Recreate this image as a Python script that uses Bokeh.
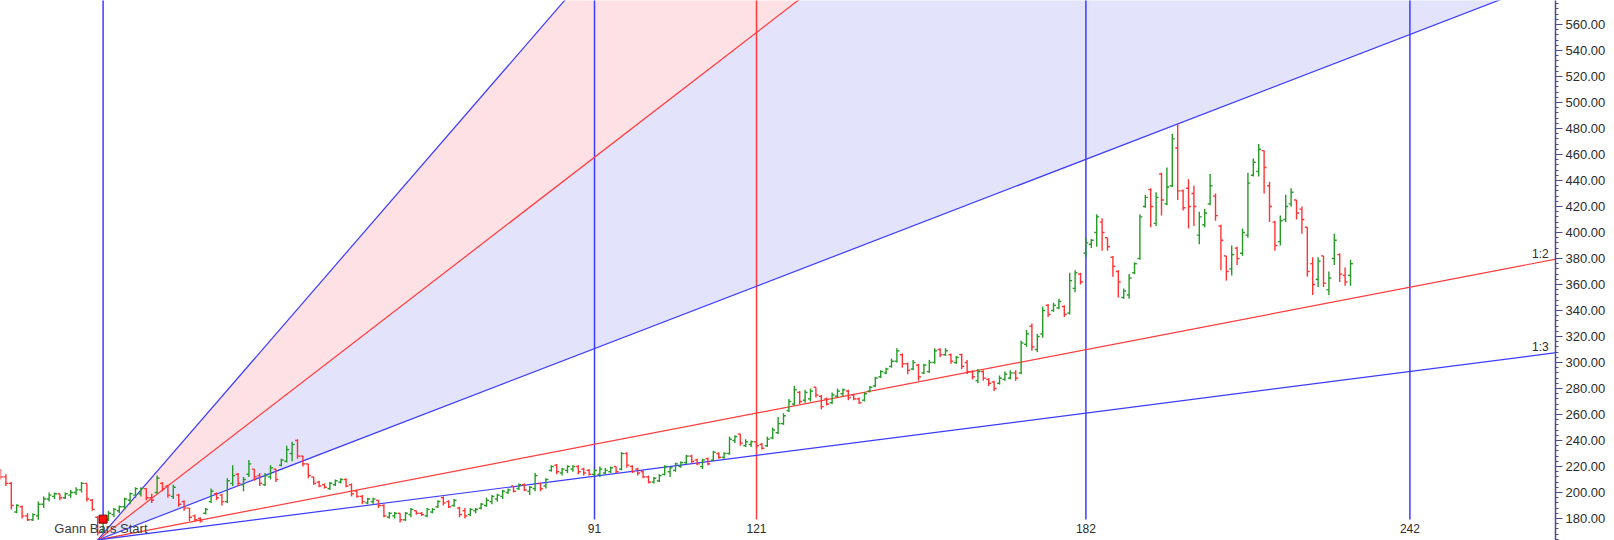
from bokeh.plotting import figure
from bokeh.models import FixedTicker, NumeralTickFormatter
from bokeh.embed import file_html
from bokeh.resources import INLINE
from bokeh.core.properties import value

# ---------------- data ----------------
first_bar = -19
opens = [217,212,207,185,189,182,179,182,191,195,
         197,199,196,198,200,202,207,194,181,170,
         179,183,186,189,194,198,199,203,196,200,
         207,205,197,198,193,188,182,180,184,193,
         199,198,193,207,214,206,214,218,213,206,
         212,218,221,224,230,240,228,222,212,208,
         206,203,206,208,210,206,201,197,192,193,
         194,190,181,182,184,179,183,186,184,182,
         185,189,196,193,190,188,186,183,186,188,
         190,193,195,197,200,205,203,206,201,203,
         207,205,217,221,215,217,218,220,218,217,
         214,214,215,216,220,218,230,220,218,216,
         212,208,209,214,216,217,220,223,228,225,
         220,226,225,230,227,230,240,245,236,237,
         239,237,236,242,246,253,263,268,277,271,
         272,281,274,272,269,274,276,278,275,272,
         271,278,282,289,292,297,301,306,299,295,
         298,292,293,300,310,306,306,300,306,300,
         293,286,293,287,285,284,287,288,292,292,
         314,328,310,322,344,340,342,343,338,357,
         368,384,391,400,408,396,381,370,350,352,
         369,380,420,433,407,445,422,436,465,432,
         434,430,398,406,422,428,405,382,372,388,
         384,398,444,447,463,436,408,393,410,422,
         425,418,404,376,364,382,356,380,383,367,367]
highs = [218,214,208,191,190,184,184,193,197,200,
         200,199,200,202,204,208,207,195,182,181,
         186,188,190,196,200,204,204,203,199,213,
         208,206,206,199,194,188,183,181,188,203,
         200,199,211,221,215,212,225,218,215,215,
         221,218,226,236,239,241,228,222,212,209,
         207,208,210,211,211,207,202,198,196,196,
         194,191,185,185,184,185,188,186,185,188,
         188,194,197,194,195,189,188,188,188,192,
         196,198,199,202,203,205,207,207,205,215,
         207,211,221,222,219,221,221,221,219,218,
         218,220,219,220,220,231,231,221,219,217,
         213,212,214,221,220,223,224,229,229,226,
         226,227,232,231,231,243,244,245,241,240,
         239,238,243,250,258,261,272,282,278,279,
         280,281,275,273,277,280,280,279,276,273,
         277,282,289,294,296,303,311,307,300,302,
         299,299,302,311,311,311,307,305,307,302,
         294,295,294,288,286,290,293,294,294,317,
         325,330,322,343,345,346,349,344,369,371,
         369,396,395,414,411,396,382,371,357,368,
         377,414,429,434,431,446,450,476,484,433,
         441,436,416,418,445,430,406,382,390,389,
         403,446,457,468,463,439,409,413,429,434,
         425,420,404,381,381,382,370,399,384,373,379]
lows = [210,205,187,184,180,178,178,179,188,193,
        195,194,195,196,198,200,193,186,167,169,
        178,181,184,187,191,196,197,194,192,199,
        201,196,195,189,186,178,178,177,183,192,
        194,190,192,205,205,201,212,209,205,205,
        210,208,220,223,224,226,220,211,206,204,
        203,202,205,207,204,197,196,191,191,191,
        188,181,180,180,177,178,181,183,182,181,
        184,188,190,188,189,181,180,182,184,187,
        189,191,193,195,199,200,202,201,198,201,
        201,203,216,214,213,215,216,214,213,213,
        213,212,214,215,215,217,219,215,213,211,
        207,207,208,213,212,216,219,222,222,221,
        218,221,224,226,226,229,238,236,235,235,
        234,233,235,241,245,252,262,267,268,269,
        270,273,264,267,268,273,274,271,271,268,
        270,277,281,288,291,296,300,296,291,294,
        286,291,292,299,304,305,299,299,295,291,
        287,284,286,282,278,283,286,287,286,291,
        312,309,308,319,335,339,341,335,337,354,
        360,381,388,389,386,386,366,350,349,349,
        368,379,419,404,405,413,421,435,425,417,
        403,405,391,404,421,409,371,363,367,375,
        382,396,443,443,430,408,386,390,408,420,
        410,399,366,352,358,358,352,375,362,359,359]
closes = [212,207,190,190,182,179,183,191,195,198,
          199,196,199,200,202,207,195,187,169,179,
          184,187,189,195,199,203,203,196,194,211,
          203,198,204,191,188,181,179,178,187,201,
          196,193,209,213,207,210,222,212,207,213,
          219,210,225,233,237,228,222,213,207,205,
          204,207,209,210,205,199,197,193,195,195,
          190,182,184,184,179,184,187,184,183,187,
          187,193,192,189,194,183,182,187,187,191,
          194,197,198,201,202,201,206,202,204,213,
          203,210,220,216,218,220,220,216,215,214,
          217,218,217,219,216,230,221,216,215,212,
          208,211,213,220,219,222,223,228,224,222,
          225,222,231,227,230,241,243,238,239,239,
          236,234,241,248,253,259,270,279,270,277,
          278,275,266,268,275,278,279,273,272,269,
          276,281,288,293,295,301,309,299,294,300,
          289,298,300,309,306,309,301,304,297,293,
          289,293,288,284,280,288,291,292,288,315,
          322,312,320,340,337,344,347,337,363,369,
          362,392,394,412,400,389,374,362,355,365,
          376,412,427,420,427,425,435,472,432,419,
          420,420,412,415,436,413,394,370,383,380,
          400,438,454,464,450,420,390,409,420,431,
          415,410,370,360,378,361,365,394,368,362,376]

start_bar = 0
start_label = "Gann Bars Start"
start_marker_price = 179.5
time_marks = [91, 121, 182, 242]
time_mark_colors = ["#3b3bff", "#ff3b3b", "#3b3bff", "#3b3bff"]
gann_origin_bar = -1
gann_origin_price = 163.5
gann_unit = 1.6
fan_ratios = [3.0, 2.0, 1.0, 1 / 2, 1 / 3]
fan_names = ["3:1", "2:1", "1:1", "1:2", "1:3"]
fan_colors = ["#3b3bff", "#ff3b3b", "#3b3bff", "#ff3b3b", "#3b3bff"]
fan_labelled = [False, False, False, True, True]
fill_pairs = [(0, 1, "#fde1e4"), (1, 2, "#e3e3fc")]
y_ticks = list(range(160, 600, 20))

X_START, X_END = -19.0, 268.96
Y_START, Y_END = 163.08, 578.46
LINE_BOTTOM = 179.2
LABEL_Y = 172.6
FAN_LABEL_X = 267.7

# ---------------- figure ----------------
p = figure(width=1614, height=540, output_backend="svg", toolbar_location=None,
           x_range=(X_START, X_END), y_range=(Y_START, Y_END),
           x_axis_location=None, y_axis_location="right",
           min_border_left=0, min_border_top=0, min_border_bottom=0,
           min_border_right=59, tools="")
p.outline_line_color = None
p.grid.visible = False
p.background_fill_color = "white"
p.border_fill_color = "white"

ax = p.yaxis[0]
ax.ticker = FixedTicker(ticks=y_ticks,
                        minor_ticks=[v for v in range(160, 600, 4)])
ax.formatter = NumeralTickFormatter(format="0.00")
ax.major_label_text_font = "Liberation Sans"
ax.major_label_text_font_size = "13px"
ax.major_label_text_color = "#2b2b2b"
ax.axis_line_color = "#4c4c8c"
ax.axis_line_width = 1.5
ax.major_tick_line_color = "#4c4c8c"
ax.minor_tick_line_color = "#4c4c8c"
ax.major_tick_out = 7
ax.major_tick_in = 0
ax.minor_tick_out = 3
ax.minor_tick_in = 0
ax.major_label_standoff = 3

# fan fills
far = 400.0
def fan_y(ratio, bar):
    return gann_origin_price + ratio * gann_unit * (bar - gann_origin_bar)

for a, b, col in fill_pairs:
    xs = [gann_origin_bar, gann_origin_bar + far, gann_origin_bar + far]
    ys = [gann_origin_price, fan_y(fan_ratios[a], gann_origin_bar + far),
          fan_y(fan_ratios[b], gann_origin_bar + far)]
    p.patch(xs, ys, fill_color=col, line_color=None)

# vertical time lines
top = 1000
p.segment(x0=[start_bar], y0=[start_marker_price], x1=[start_bar], y1=[top],
          line_color="#3b3bff", line_width=1.5)
p.segment(x0=time_marks, y0=[LINE_BOTTOM] * len(time_marks), x1=time_marks,
          y1=[top] * len(time_marks), line_color=time_mark_colors, line_width=1.5)

# fan lines
for r, col in zip(fan_ratios, fan_colors):
    p.segment(x0=[gann_origin_bar], y0=[gann_origin_price],
              x1=[gann_origin_bar + far], y1=[fan_y(r, gann_origin_bar + far)],
              line_color=col, line_width=1.2)

# OHLC bars
n = len(opens)
bars = list(range(first_bar, first_bar + n))
cols = ["#259b25" if c >= o else "#ff3333" for o, c in zip(opens, closes)]
tick = 0.45
p.segment(x0=bars, y0=lows, x1=bars, y1=highs, line_color=cols, line_width=1.4)
p.segment(x0=[b - tick for b in bars], y0=opens, x1=bars, y1=opens,
          line_color=cols, line_width=1.4)
p.segment(x0=bars, y0=closes, x1=[b + tick for b in bars], y1=closes,
          line_color=cols, line_width=1.4)

# start marker and label
p.scatter(x=[start_bar], y=[start_marker_price], marker="square", size=8,
          fill_color="#ff1010", line_color="#700000", line_width=1)
p.text(x=[start_bar - 0.4], y=[LABEL_Y], text=[start_label], text_align="center",
       text_baseline="middle", text_font=value("Liberation Sans"),
       text_font_size="13px", text_color="#3a3a3a")

# time mark labels
p.text(x=time_marks, y=[LABEL_Y] * len(time_marks), text=[str(t) for t in time_marks],
       text_align="center", text_baseline="middle", text_font=value("Liberation Sans"),
       text_font_size="12px", text_color="#2b2b2b")

# fan labels
lx, ly, lt = [], [], []
for r, name, show in zip(fan_ratios, fan_names, fan_labelled):
    if show:
        lx.append(FAN_LABEL_X)
        ly.append(fan_y(r, FAN_LABEL_X))
        lt.append(name)
p.text(x=lx, y=ly, text=lt, text_align="right", text_baseline="bottom",
       text_font=value("Liberation Sans"), text_font_size="12px", text_color="#2b2b2b")

open("out.html", "w").write(file_html(p, INLINE))
